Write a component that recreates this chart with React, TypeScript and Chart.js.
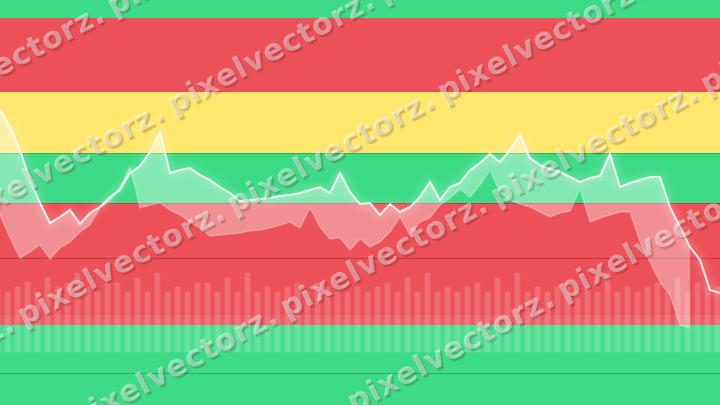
import React, { useEffect, useRef } from "react";
import { Chart, registerables } from "chart.js";

Chart.register(...registerables);

// ---- data (value units: 0..81) ----
const mainValues = [
  59, 55.6, 51, 45, 40.4, 36.4, 37.6, 39, 36.2, 38.4,
  39.6, 41.6, 43, 46.4, 47.8, 50.6, 54.6, 46.4, 47, 47.4,
  46, 45, 43.6, 42.4, 40.8, 41, 41.2, 41.4, 41.8, 42,
  42.4, 43, 43.6, 42.4, 46.4, 42.6, 40.2, 40.4, 38, 40.2,
  38.6, 39.6, 41.6, 44.6, 41, 43.6, 44.4, 47, 48.4, 50.2,
  48.6, 51, 54, 49.4, 48, 47.2, 46.6, 45.6, 44.6, 45.4,
  45.8, 50.2, 43.6, 44.4, 45, 45.6, 45.6, 39.6, 35.6, 31.6,
  29, 23, 22.4,
];

const barTops = [
  23.6, 22.6, 23.6, 24.6, 22.6, 25.4, 23.6, 24.4, 26.4, 23.6, 22.6, 24.4,
  24.4, 22.6, 25.4, 22.6, 26.4, 22.6, 23.6, 22.6, 24.4, 24.4, 22.6, 25.4,
  22.6, 26.4, 22.6, 23.6, 22.6, 23.6, 24.4, 22.6, 24.4, 23.6, 22.6, 22.6,
  23.6, 22.6, 23.6, 24.4, 22.6, 25.4, 22.6, 26.4, 22.6, 23.6, 22.6, 23.6,
  24.4, 22.6, 25.4, 22.6, 26.4, 22.6, 23.6, 22.6, 23.6, 24.4, 22.6, 23.6,
  22.6, 26.4, 22.6, 23.6, 22.6, 23.6, 24.4, 22.6, 25.4, 22.6, 24.4, 23.6,
  23.6,
];
const barBase = 10.6;

const bandLows = [77.4, 62.6, 50.4, 40.4, 16, 0];
const bandHighs = [81, 77.4, 62.6, 50.4, 40.4, 16];
const ruleValues = [50.4, 40.4, 29.4, 6.4];
const glowBandLow = 10.6;
const glowBandHigh = 18;

const watermarkText = "pixelvectorz.";

// ---- styles ----
const GREEN = "#3EDB86";
const RED = "#EB5157";
const YELLOW = "#FFE76E";
const bandColors = [GREEN, RED, YELLOW, GREEN, RED, GREEN];

const bandsPlugin = {
  id: "bands",
  beforeDraw(chart: any) {
    const { ctx, chartArea, scales } = chart;
    const y = scales.y;
    ctx.save();
    for (let i = 0; i < bandLows.length; i++) {
      const top = y.getPixelForValue(bandHighs[i]);
      const bot = y.getPixelForValue(bandLows[i]);
      ctx.fillStyle = bandColors[i];
      ctx.fillRect(chartArea.left, top, chartArea.right - chartArea.left, bot - top);
    }
    const gt = y.getPixelForValue(glowBandHigh);
    const gb = y.getPixelForValue(glowBandLow);
    ctx.fillStyle = "rgba(255,255,255,0.07)";
    ctx.fillRect(chartArea.left, gt, chartArea.right - chartArea.left, gb - gt);
    ctx.strokeStyle = "rgba(0,0,0,0.22)";
    ctx.lineWidth = 1;
    for (const v of ruleValues) {
      const p = Math.round(y.getPixelForValue(v)) + 0.5;
      ctx.beginPath();
      ctx.moveTo(chartArea.left, p);
      ctx.lineTo(chartArea.right, p);
      ctx.stroke();
    }
    ctx.restore();
  },
};

const glowPlugin = {
  id: "glow",
  beforeDatasetDraw(chart: any, args: any) {
    if (args.index !== 0) return;
    const ctx = chart.ctx;
    ctx.save();
    ctx.shadowColor = "rgba(255,255,255,0.85)";
    ctx.shadowBlur = 10;
  },
  afterDatasetDraw(chart: any, args: any) {
    if (args.index !== 0) return;
    chart.ctx.restore();
  },
};

const watermarkPlugin = {
  id: "watermark",
  afterDraw(chart: any) {
    const { ctx } = chart;
    const angle = (28 * Math.PI) / 180;
    const slope = Math.tan(angle);
    const intercepts = [68, 198, 330, 462, 592];
    const phases = [110, 170, 20, 73, 140];
    const step = 238;
    ctx.save();
    ctx.font = "bold 30px 'DejaVu Sans'";
    (ctx as any).letterSpacing = "1px";
    ctx.textBaseline = "middle";
    ctx.fillStyle = "rgba(255,255,255,0.42)";
    ctx.shadowColor = "rgba(60,15,15,0.5)";
    ctx.shadowOffsetX = 2;
    ctx.shadowOffsetY = 2;
    ctx.shadowBlur = 1;
    for (let l = 0; l < intercepts.length; l++) {
      const x0 = phases[l] - 3 * step * Math.cos(angle);
      const y0 = intercepts[l] - x0 * slope;
      ctx.save();
      ctx.translate(x0, y0);
      ctx.rotate(-angle);
      for (let k = 0; k < 10; k++) {
        ctx.fillText(watermarkText, k * step, 0);
      }
      ctx.restore();
    }
    ctx.restore();
  },
};

export default function App() {
  const ref = useRef<HTMLCanvasElement>(null);
  useEffect(() => {
    document.body.style.margin = "0";
    const canvas = ref.current;
    if (!canvas) return;
    const mainData = mainValues.map((v, i) => ({ x: i, y: v }));
    const barData = barTops.map((v, i) => ({ x: i, y: [barBase, v] }));
    const chart = new Chart(canvas, {
      type: "line",
      data: {
        datasets: [
          {
            type: "line",
            data: mainData,
            xAxisID: "x",
            yAxisID: "y",
            borderColor: "rgba(255,255,255,0.85)",
            borderWidth: 2,
            pointRadius: 0,
            tension: 0,
            fill: "+1",
            backgroundColor: "rgba(255,255,255,0.36)",
          } as any,
          {
            type: "line",
            data: mainData,
            xAxisID: "x2",
            yAxisID: "y2",
            borderColor: "rgba(255,255,255,0.28)",
            borderWidth: 1.5,
            pointRadius: 0,
            tension: 0,
            fill: false,
          } as any,
          {
            type: "bar",
            data: barData,
            xAxisID: "x",
            yAxisID: "y",
            backgroundColor: "rgba(255,255,255,0.17)",
            borderWidth: 0,
            barThickness: 5,
          } as any,
        ],
      },
      options: {
        responsive: false,
        animation: false,
        layout: { padding: 0 },
        plugins: { legend: { display: false }, tooltip: { enabled: false } },
        scales: {
          x: { type: "linear", min: 0, max: 72, offset: false, display: false },
          x2: { type: "linear", min: 3, max: 75, offset: false, display: false },
          y: { type: "linear", min: 0, max: 81, display: false },
          y2: { type: "linear", min: 7, max: 88, display: false },
        },
      } as any,
      plugins: [bandsPlugin, glowPlugin, watermarkPlugin],
    });
    return () => chart.destroy();
  }, []);
  return (
    <div style={{ width: 720, height: 405 }}>
      <canvas ref={ref} width={720} height={405} style={{ display: "block" }} />
    </div>
  );
}
